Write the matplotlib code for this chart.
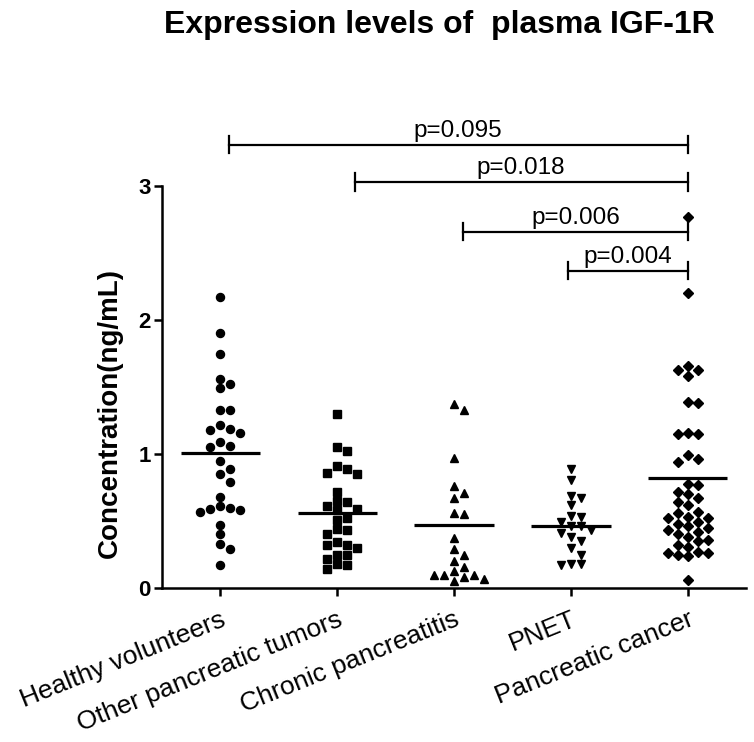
import matplotlib
matplotlib.use("Agg")
import matplotlib.pyplot as plt
import numpy as np

plt.rcParams['font.family'] = ['Liberation Sans', 'DejaVu Sans']

# data (ng/mL)
groups = ["Healthy volunteers", "Other pancreatic tumors", "Chronic pancreatitis",
          "PNET", "Pancreatic cancer"]
healthy = [2.17, 1.90, 1.75, 1.56, 1.52, 1.49, 1.33, 1.33, 1.22, 1.19, 1.18, 1.16,
           1.09, 1.06, 1.05, 0.95, 0.89, 0.85, 0.79, 0.68, 0.61, 0.60, 0.59, 0.58,
           0.57, 0.47, 0.40, 0.33, 0.29, 0.17]
other = [1.30, 1.05, 1.02, 0.91, 0.89, 0.86, 0.85, 0.72, 0.65, 0.64, 0.61, 0.59,
         0.58, 0.52, 0.51, 0.44, 0.43, 0.40, 0.34, 0.32, 0.32, 0.30, 0.25, 0.25,
         0.22, 0.18, 0.17, 0.14]
chronic = [1.37, 1.33, 0.97, 0.76, 0.71, 0.67, 0.56, 0.55, 0.37, 0.29, 0.25, 0.20,
           0.16, 0.13, 0.10, 0.10, 0.10, 0.08, 0.07, 0.05]
pnet = [0.89, 0.81, 0.69, 0.67, 0.62, 0.54, 0.53, 0.49, 0.46, 0.46, 0.43, 0.41,
        0.38, 0.35, 0.30, 0.25, 0.18, 0.18, 0.17]
cancer = [2.77, 2.20, 1.66, 1.63, 1.63, 1.58, 1.39, 1.38, 1.16, 1.15, 1.15, 0.99,
          0.96, 0.94, 0.78, 0.77, 0.72, 0.70, 0.67, 0.64, 0.62, 0.57, 0.56, 0.53,
          0.52, 0.52, 0.49, 0.48, 0.46, 0.45, 0.43, 0.42, 0.40, 0.38, 0.36, 0.35,
          0.32, 0.31, 0.27, 0.26, 0.26, 0.25, 0.24, 0.06]
means = [1.01, 0.56, 0.47, 0.46, 0.82]

# comparisons against pancreatic cancer
p_labels = ["p=0.095", "p=0.018", "p=0.006", "p=0.004"]
bracket_start = [0.07, 1.15, 2.08, 2.98]
bracket_end = [4, 4, 4, 4]
bracket_y = [3.31, 3.03, 2.66, 2.37]

values = [healthy, other, chronic, pnet, cancer]
markers = ['o', 's', '^', 'v', 'D']
msizes = [5.8, 5.8, 6.0, 6.0, 5.0]


def swarm(vals, step, gap):
    # simple column scatter: shift a point sideways if it would overlap
    placed = []
    offs = []
    order = [0]
    for i in range(1, 8):
        order += [i, -i]
    for v in vals:
        for k in order:
            if all(not (o == k and abs(v - pv) < gap) for o, pv in placed):
                break
        placed.append((k, v))
        offs.append(k * step)
    return np.array(offs)


fig = plt.figure(figsize=(7.54, 7.42), dpi=100)
ax = fig.add_axes([0.2149, 0.2075, 0.7745, 0.650])

for i, vals in enumerate(values):
    off = swarm(vals, 0.0857, 0.062)
    ax.plot(i + off, vals, ls='none', marker=markers[i], ms=msizes[i],
            color='black', clip_on=False)
    ax.plot([i - 0.34, i + 0.34], [means[i], means[i]], color='black', lw=2.3,
            solid_capstyle='butt')

for lab, x0, x1, y in zip(p_labels, bracket_start, bracket_end, bracket_y):
    ax.plot([x0, x1], [y, y], color='black', lw=1.6, clip_on=False)
    for xe in (x0, x1):
        ax.plot([xe, xe], [y - 0.065, y + 0.065], color='black', lw=1.6, clip_on=False)
    ax.text((x0 + x1) / 2, y + 0.02, lab, ha='center', va='bottom', fontsize=17.5,
            clip_on=False)

ax.set_xlim(-0.5, 4.5)
ax.set_ylim(0, 3.6)
ax.spines['top'].set_visible(False)
ax.spines['right'].set_visible(False)
ax.spines['left'].set_bounds(0, 3)
ax.spines['left'].set_linewidth(1.8)
ax.spines['bottom'].set_linewidth(1.8)

ax.set_yticks([0, 1, 2, 3])
ax.set_yticklabels(['0', '1', '2', '3'], fontsize=16, fontweight='bold')
ax.tick_params(axis='both', direction='out', length=6, width=1.8)
ax.tick_params(axis='y', pad=2)
ax.set_xticks(range(len(groups)))
ax.set_xticklabels(groups, fontsize=19, rotation=22, ha='right',
                   rotation_mode='anchor')
ax.tick_params(axis='x', pad=8)

ax.set_ylabel("Concentration(ng/mL)", fontsize=20, fontweight='bold')
ax.yaxis.set_label_coords(-0.067, 1.31 / 3.6)

fig.text(439 / 754, 1 - 25 / 742, "Expression levels of  plasma IGF-1R",
         ha='center', va='center', fontsize=23, fontweight='bold')

fig.savefig("out.png", dpi=100)
